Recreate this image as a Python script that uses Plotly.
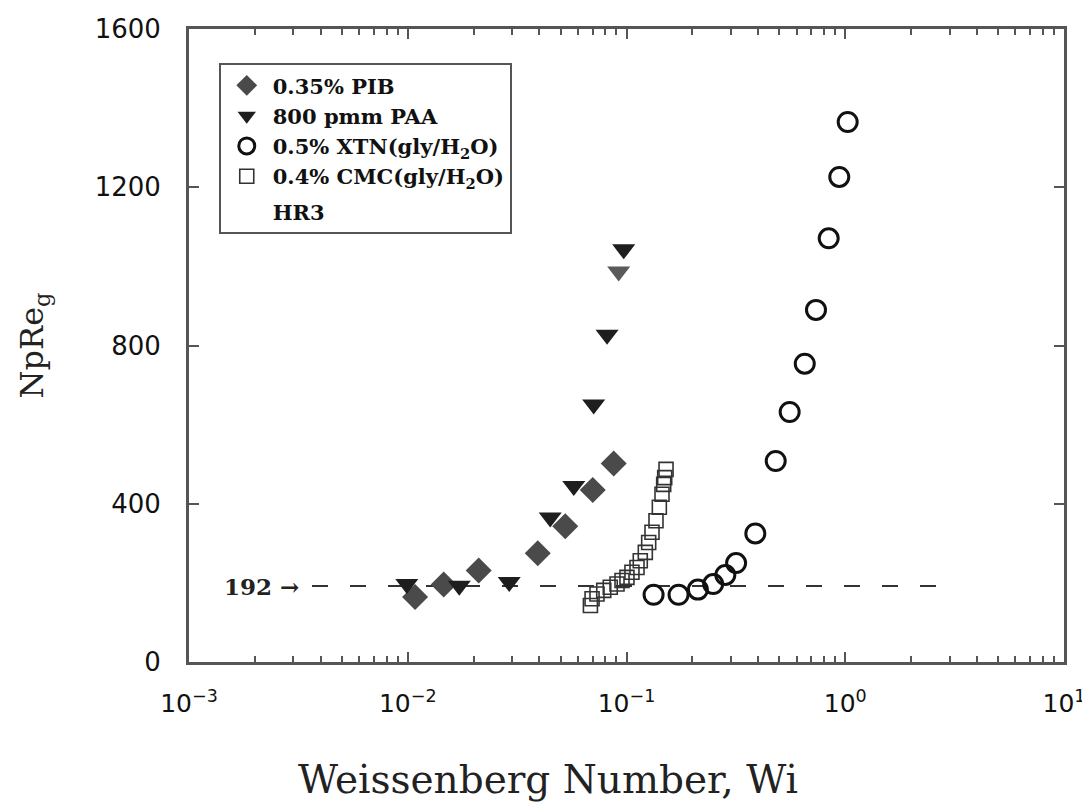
import plotly.graph_objects as go

# ---- data ----
pib_wi = [0.0108, 0.0146, 0.0211, 0.0393, 0.0525, 0.0701, 0.0874]
pib_np = [164, 196, 231, 275, 343, 435, 502]

paa_wi = [0.0099, 0.0172, 0.0291, 0.0448, 0.0574, 0.0708, 0.0815, 0.0921, 0.0971]
paa_np = [197, 193, 202, 365, 445, 651, 827, 987, 1043]

xtn_wi = [0.133, 0.173, 0.212, 0.249, 0.283, 0.317, 0.388, 0.481, 0.557, 0.653, 0.735, 0.840, 0.939, 1.026]
xtn_np = [170, 170, 183, 197, 220, 250, 325, 508, 632, 754, 890, 1071, 1226, 1365]

cmc_wi = [0.0684, 0.0696, 0.0733, 0.0787, 0.0843, 0.0905, 0.0954, 0.1005, 0.1059, 0.1117,
          0.1156, 0.1219, 0.1263, 0.1308, 0.1364, 0.1413, 0.1453, 0.1479, 0.1495, 0.1516]
cmc_np = [143, 160, 172, 181, 189, 197, 206, 214, 227, 239,
          256, 277, 302, 328, 357, 391, 424, 449, 466, 487]

ref_value = 192
ref_wi_extent = [0.00365, 3.08]

x_tickvals = [1e-3, 1e-2, 1e-1, 1e0, 1e1]
x_ticktext = ["10<sup>−3</sup>", "10<sup>−2</sup>", "10<sup>−1</sup>", "10<sup>0</sup>", "10<sup>1</sup>"]
y_tickvals = [0, 400, 800, 1200, 1600]

# ---- figure ----
fig = go.Figure()

serif = "DejaVu Serif"

fig.add_trace(go.Scatter(
    x=ref_wi_extent, y=[ref_value, ref_value], mode="lines",
    line=dict(color="#333333", width=2, dash="16px,22px"),
    showlegend=False, hoverinfo="skip"))

fig.add_trace(go.Scatter(
    x=pib_wi, y=pib_np, mode="markers", name="<b>0.35% PIB</b>", legendgroup="a",
    marker=dict(symbol="diamond", size=20, color="#4a4a4a", line=dict(width=0))))

paa_colors = ["#1e1e1e"] * len(paa_wi)
paa_colors[7] = "#5a5a5a"
fig.add_trace(go.Scatter(
    x=paa_wi, y=paa_np, mode="markers", name="<b>800 pmm PAA</b>", legendgroup="a",
    marker=dict(symbol="triangle-down", size=20, color=paa_colors, line=dict(width=0))))

fig.add_trace(go.Scatter(
    x=xtn_wi, y=xtn_np, mode="markers", name="<b>0.5% XTN(gly/H<sub>2</sub>O)</b>", legendgroup="a",
    marker=dict(symbol="circle-open", size=19, color="#111111", line=dict(width=3))))

fig.add_trace(go.Scatter(
    x=cmc_wi, y=cmc_np, mode="markers", name="<b>0.4% CMC(gly/H<sub>2</sub>O)</b>", legendgroup="a",
    marker=dict(symbol="square-open", size=14, color="#333333", line=dict(width=1.6))))

fig.add_trace(go.Scatter(
    x=[None], y=[None], mode="markers", name="<b>HR3</b>", legendgroup="b",
    marker=dict(symbol="circle", size=1, color="rgba(0,0,0,0)")))

axis_color = "#555555"
fig.update_xaxes(
    type="log", range=[-3, 1], automargin=False,
    tickvals=x_tickvals, ticktext=x_ticktext,
    ticks="inside", ticklen=10, tickwidth=2, tickcolor=axis_color,
    minor=dict(ticks="inside", ticklen=6, tickwidth=1.5, tickcolor=axis_color, dtick="D1", showgrid=False),
    showline=True, linecolor=axis_color, linewidth=3, mirror="allticks",
    showgrid=False, zeroline=False,
    tickfont=dict(family="DejaVu Sans", size=25, color="#111111"),
    ticklabelstandoff=17, ticklabeloverflow="allow",
)
fig.update_yaxes(
    range=[0, 1600], tickvals=y_tickvals, automargin=False,
    ticks="inside", ticklen=10, tickwidth=2, tickcolor=axis_color,
    showline=True, linecolor=axis_color, linewidth=3, mirror="allticks",
    showgrid=False, zeroline=False,
    tickfont=dict(family="DejaVu Sans", size=26, color="#111111"),
    ticklabelstandoff=20,
    title=dict(text="NpRe<sub>g</sub>", font=dict(family=serif, size=32, color="#222222"), standoff=42),
)

fig.add_annotation(
    x=0.41, y=-0.185, xref="paper", yref="paper", text="Weissenberg Number, Wi", showarrow=False,
    xanchor="center", yanchor="middle", font=dict(family=serif, size=39, color="#222222"))

fig.add_annotation(
    x=-2.85, y=ref_value, xref="x", yref="y", text="<b>192 →</b>", showarrow=False,
    xanchor="left", yanchor="middle", font=dict(family=serif, size=23, color="#222222"))

fig.update_layout(
    width=1090, height=810,
    margin=dict(l=181, r=34, t=21, b=156),
    paper_bgcolor="white", plot_bgcolor="white",
    legend=dict(
        x=0.034, y=0.946, xanchor="left", yanchor="top",
        bordercolor="#555555", borderwidth=2, bgcolor="white",
        font=dict(family=serif, size=21, color="#111111"),
        tracegroupgap=5, itemwidth=42,
    ),
    showlegend=True,
)

fig.write_html("out.html")
